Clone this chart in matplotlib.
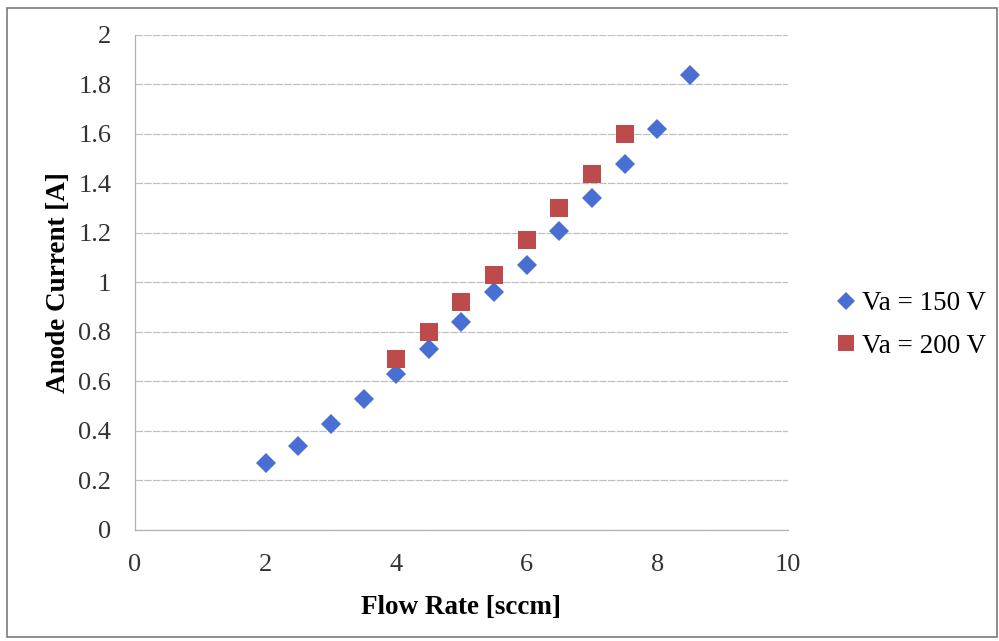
import numpy as np
import matplotlib as mpl
mpl.use('Agg')
import matplotlib.pyplot as plt

plt.rcParams['font.family'] = ['Liberation Serif', 'DejaVu Serif']

# Anode current vs. flow rate, two anode voltages
flow_150 = [2.0, 2.5, 3.0, 3.5, 4.0, 4.5, 5.0, 5.5, 6.0, 6.5, 7.0, 7.5, 8.0, 8.5]
curr_150 = [0.27, 0.34, 0.43, 0.53, 0.63, 0.73, 0.84, 0.96, 1.07, 1.21, 1.34, 1.48, 1.62, 1.84]

flow_200 = [4.0, 4.5, 5.0, 5.5, 6.0, 6.5, 7.0, 7.5]
curr_200 = [0.69, 0.80, 0.92, 1.03, 1.17, 1.30, 1.44, 1.60]

fig = plt.figure(figsize=(9.99, 6.41), dpi=100)
ax = fig.add_axes([0.1351, 0.1732, 0.6537, 0.7722])

ax.plot(flow_150, curr_150, linestyle='none', marker='D', markersize=9.8,
        color='#4a6fd2', markeredgewidth=0, label='Va = 150 V', zorder=3)
ax.plot(flow_200, curr_200, linestyle='none', marker='s', markersize=12.5,
        color='#bd4b4b', markeredgewidth=0, label='Va = 200 V', zorder=3)

ax.set_xlim(0, 10)
ax.set_ylim(0, 2)
ax.set_xticks(np.arange(0, 11, 2))
ax.set_yticks(np.arange(0, 2.01, 0.2))
ax.set_yticklabels(['0', '0.2', '0.4', '0.6', '0.8', '1', '1.2', '1.4', '1.6', '1.8', '2'])

ax.grid(axis='y', color='#c0c0c0', linewidth=0.9, linestyle=(0, (6, 1)))
ax.set_axisbelow(True)
for side in ['top', 'right']:
    ax.spines[side].set_visible(False)
for side in ['left', 'bottom']:
    ax.spines[side].set_color('#b0b0b0')
    ax.spines[side].set_linewidth(0.9)
ax.tick_params(length=0, labelsize=19, colors='#333333')
ax.tick_params(axis='y', pad=17)
ax.tick_params(axis='x', pad=17)

ax.set_xlabel('Flow Rate [sccm]', fontsize=19.5, fontweight='bold', labelpad=14)
ax.set_ylabel('Anode Current [A]', fontsize=19.5, fontweight='bold', labelpad=5)

leg = ax.legend(loc='center left', bbox_to_anchor=(1.06, 0.414), frameon=False,
                fontsize=19.5, handlelength=0.6, handletextpad=0.3,
                labelspacing=0.64, borderaxespad=0)
leg.legend_handles[0].set_markersize(8.7)
leg.legend_handles[1].set_markersize(12.2)

# Outer chart border
border = plt.Rectangle((0.007, 0.006), 0.991, 0.982, transform=fig.transFigure,
                       fill=False, edgecolor='#7a7a7a', linewidth=1.2)
fig.patches.append(border)

fig.savefig('out.png', dpi=100)
